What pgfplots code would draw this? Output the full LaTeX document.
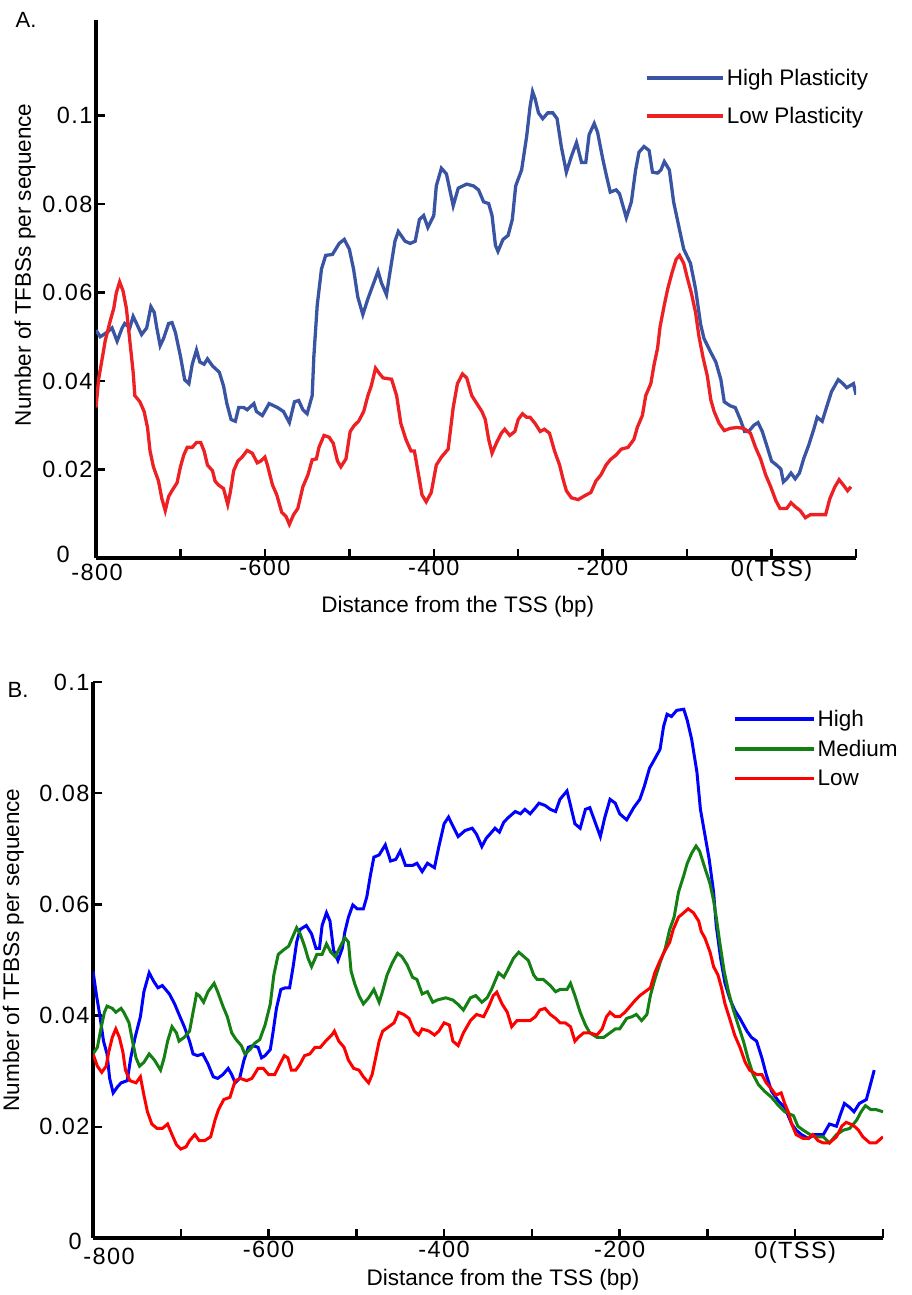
\documentclass[border=0pt]{standalone}
\usepackage{fontspec}
\setmainfont{Liberation Sans}
\newfontfamily\tickfont[LetterSpace=6]{Liberation Sans}
\usepackage{pgfplots}
\pgfplotsset{compat=1.18}
\definecolor{ablue}{RGB}{58,84,164}
\definecolor{ared}{RGB}{237,32,36}
\definecolor{bblue}{RGB}{0,0,255}
\definecolor{bgreen}{RGB}{20,128,20}
\definecolor{bred}{RGB}{255,0,0}
\newcommand{\tfont}{\tickfont\fontsize{23.5}{27}\selectfont}
\pgfplotsset{
 panel/.style={
  scale only axis,
  axis x line=bottom, axis y line=left,
  axis line style={-, line width=4pt},
  xmin=-800, xmax=100, ymin=0,
  xtick={-800,-700,-600,-500,-400,-300,-200,-100,0,100},
  xticklabels={{},{},{-600},{},{-400},{},{-200},{},{0(TSS)},{}},
  ytick={0,0.02,0.04,0.06,0.08,0.1},
  yticklabels={{},0.02,0.04,0.06,0.08,0.1},
  tick align=inside,
  tick style={line width=2.5pt, black},
  major tick length=9pt,
  tick label style={font=\tfont},
  label style={font=\fontsize{22.5}{27}\selectfont},
  legend style={draw=none, fill=none, font=\fontsize{22.5}{27}\selectfont, inner sep=0pt},
  legend cell align=left,
 }
}
\begin{document}
\begin{tikzpicture}[x=1pt,y=1pt]
\useasboundingbox (0,0) rectangle (911,1295);
\node[font=\fontsize{22}{26}\selectfont] at (26,1275) {A.};
\node[font=\fontsize{22}{26}\selectfont] at (18,605) {B.};
\begin{axis}[panel,
  at={(96pt,737pt)}, anchor=south west,
  width=760pt, height=538pt, ymax=0.1216,
  xticklabel style={yshift=2pt},
  xlabel={Distance from the TSS (bp)},
  ylabel={Number of TFBSs per sequence},
  xlabel style={at={(axis description cs:0.476,-0.091)}, anchor=center},
  ylabel style={at={(axis description cs:-0.0934,0.545)}, anchor=center, rotate=0},
  legend image code/.code={\draw[#1, line width=4pt] (0pt,0pt) -- (76pt,0pt);},
  legend style={at={(axis description cs:0.722,0.9126)}, anchor=north west, row sep=16pt},
]
\addplot[ablue, line width=3.3pt] coordinates {
(-800,0.0515)(-795,0.050)(-787,0.051)(-781,0.052)(-775,0.049)(-769,0.052)(-766,0.053)(-760,0.052)(-756,0.0546)(-752,0.053)(-746,0.0505)(-740,0.052)(-735,0.0568)(-731,0.0555)(-728,0.052)(-724,0.048)(-720,0.0496)(-714,0.053)(-710,0.0532)(-706,0.051)(-700,0.0456)(-695,0.0403)(-690,0.0394)(-686,0.0438)(-681,0.047)(-677,0.0443)(-672,0.0438)(-668,0.045)(-662,0.0434)(-654,0.042)(-649,0.0389)(-645,0.0349)(-640,0.0313)(-635,0.0309)(-631,0.034)(-625,0.034)(-621,0.0335)(-613,0.0349)(-610,0.0331)(-603,0.0322)(-595,0.0349)(-585,0.034)(-578,0.0331)(-571,0.0306)(-565,0.0353)(-560,0.0356)(-555,0.0335)(-550,0.0326)(-544,0.0367)(-542,0.0456)(-538,0.0572)(-533,0.0653)(-528,0.0684)(-520,0.0686)(-512,0.0711)(-506,0.072)(-500,0.0698)(-495,0.0653)(-490,0.059)(-484,0.055)(-478,0.0586)(-472,0.0617)(-466,0.0648)(-462,0.0622)(-456,0.0595)(-452,0.0644)(-446,0.0716)(-442,0.0738)(-434,0.0716)(-428,0.0711)(-422,0.0716)(-417,0.0765)(-412,0.0774)(-407,0.0747)(-400,0.0774)(-397,0.0841)(-391,0.0881)(-385,0.0868)(-377,0.0796)(-371,0.0836)(-361,0.0845)(-353,0.0841)(-347,0.0832)(-341,0.0805)(-335,0.0801)(-331,0.0774)(-327,0.0707)(-324,0.0693)(-318,0.072)(-312,0.0729)(-307,0.0765)(-303,0.0841)(-296,0.0877)(-290,0.0953)(-286,0.102)(-283,0.1054)(-280,0.1038)(-276,0.1006)(-271,0.0993)(-265,0.1006)(-259,0.1006)(-254,0.0993)(-249,0.093)(-243,0.0872)(-237,0.0908)(-231,0.0939)(-225,0.0894)(-220,0.0894)(-216,0.0957)(-210,0.0982)(-206,0.0962)(-200,0.0903)(-196,0.0868)(-191,0.0827)(-184,0.0832)(-180,0.0823)(-176,0.0796)(-172,0.0769)(-166,0.0805)(-161,0.0877)(-157,0.0917)(-151,0.093)(-145,0.0921)(-141,0.0872)(-135,0.087)(-131,0.0877)(-127,0.0896)(-121,0.0877)(-116,0.0805)(-109,0.0742)(-104,0.0698)(-96,0.0666)(-90,0.0608)(-84,0.0528)(-80,0.0496)(-72,0.0465)(-66,0.0443)(-60,0.0403)(-56,0.0353)(-49,0.0344)(-43,0.034)(-37,0.0313)(-32,0.0286)(-27,0.0286)(-21,0.03)(-16,0.0306)(-11,0.0286)(-5,0.025)(0,0.0219)(6,0.021)(11,0.0201)(14,0.0172)(18,0.0179)(23,0.0192)(28,0.0179)(33,0.0192)(38,0.0224)(44,0.0255)(50,0.0291)(54,0.0318)(60,0.0309)(65,0.034)(71,0.0376)(79,0.0403)(84,0.0395)(89,0.0385)(97,0.0394)(100,0.0369)
};
\addlegendentry{High Plasticity}
\addplot[ared, line width=3.3pt] coordinates {
(-800,0.034)(-797,0.0403)(-793,0.0447)(-789,0.0492)(-783,0.0537)(-779,0.0564)(-776,0.0599)(-772,0.0624)(-768,0.0604)(-764,0.0564)(-760,0.0492)(-756,0.042)(-754,0.0367)(-748,0.0353)(-743,0.0331)(-739,0.0295)(-736,0.0242)(-732,0.0206)(-726,0.0174)(-722,0.0134)(-718,0.0107)(-714,0.0139)(-710,0.0152)(-704,0.017)(-700,0.0206)(-696,0.0233)(-692,0.025)(-686,0.025)(-681,0.0261)(-676,0.0261)(-672,0.0242)(-668,0.021)(-662,0.0197)(-659,0.0174)(-655,0.0165)(-649,0.0157)(-644,0.0121)(-641,0.0148)(-637,0.0197)(-632,0.0219)(-627,0.0228)(-621,0.0243)(-615,0.0237)(-609,0.0215)(-605,0.0219)(-600,0.0228)(-597,0.021)(-591,0.0165)(-586,0.0143)(-580,0.0103)(-575,0.0094)(-571,0.0076)(-566,0.0098)(-561,0.0112)(-555,0.0161)(-549,0.0188)(-544,0.0222)(-539,0.0224)(-536,0.025)(-530,0.0277)(-524,0.0273)(-519,0.0259)(-514,0.0219)(-510,0.0206)(-504,0.0224)(-499,0.0286)(-494,0.03)(-489,0.0309)(-483,0.0331)(-478,0.0367)(-474,0.0389)(-469,0.0429)(-464,0.0416)(-460,0.0407)(-450,0.0404)(-444,0.0367)(-439,0.0304)(-433,0.0268)(-427,0.0242)(-423,0.0242)(-418,0.0188)(-414,0.0143)(-409,0.0127)(-403,0.0148)(-397,0.021)(-391,0.0228)(-383,0.0246)(-377,0.034)(-372,0.0394)(-366,0.0416)(-361,0.0407)(-355,0.0367)(-349,0.0349)(-343,0.0331)(-339,0.0313)(-335,0.0268)(-331,0.0237)(-326,0.0259)(-320,0.0282)(-316,0.0291)(-310,0.0277)(-304,0.0286)(-300,0.0313)(-295,0.0326)(-290,0.0318)(-286,0.0318)(-280,0.0304)(-274,0.0286)(-269,0.0291)(-263,0.0282)(-257,0.0242)(-251,0.021)(-247,0.0179)(-243,0.0152)(-237,0.0136)(-229,0.0132)(-221,0.0141)(-214,0.0148)(-208,0.0174)(-202,0.0188)(-196,0.021)(-191,0.0222)(-184,0.0233)(-178,0.0246)(-170,0.025)(-163,0.0268)(-159,0.0295)(-153,0.0322)(-149,0.0367)(-143,0.0394)(-139,0.0438)(-135,0.0474)(-132,0.0523)(-127,0.0572)(-123,0.0608)(-118,0.0644)(-113,0.0675)(-109,0.0684)(-104,0.0666)(-100,0.0635)(-95,0.0599)(-90,0.0555)(-86,0.0501)(-81,0.0452)(-76,0.0411)(-72,0.0358)(-68,0.0331)(-62,0.0304)(-56,0.0288)(-49,0.0293)(-41,0.0295)(-33,0.0293)(-25,0.0282)(-19,0.025)(-13,0.0224)(-7,0.0188)(-1,0.0161)(5,0.013)(10,0.0112)(18,0.0112)(23,0.0125)(28,0.0116)(34,0.0107)(40,0.0091)(46,0.0098)(54,0.0098)(64,0.0098)(69,0.0134)(75,0.0161)(80,0.0177)(85,0.0165)(90,0.0152)(94,0.0161)
};
\addlegendentry{Low Plasticity}
\end{axis}
\node[font=\tfont, inner sep=0pt, anchor=east] at (70,741) {0};
\node[font=\tfont, inner sep=0pt, anchor=north] at (97,731) {-800};
\begin{axis}[panel,
  at={(93pt,57pt)}, anchor=south west,
  width=790pt, height=556pt, ymax=0.1,
  xlabel={Distance from the TSS (bp)},
  ylabel={Number of TFBSs per sequence},
  xlabel style={at={(axis description cs:0.519,-0.0755)}, anchor=center},
  ylabel style={at={(axis description cs:-0.101,0.518)}, anchor=center, rotate=0},
  legend image code/.code={\draw[#1, line width=3.5pt] (0pt,0pt) -- (79pt,0pt);},
  legend style={at={(axis description cs:0.81,0.953)}, anchor=north west, row sep=8pt},
]
\addplot[bblue, line width=3pt] coordinates {
(-800,0.048)(-796,0.0436)(-792,0.0398)(-788,0.0354)(-784,0.0331)(-781,0.0287)(-777,0.0261)(-772,0.0272)(-768,0.0279)(-761,0.0283)(-757,0.0324)(-752,0.0361)(-746,0.0398)(-742,0.0443)(-736,0.0477)(-731,0.0462)(-726,0.045)(-721,0.0454)(-713,0.0439)(-707,0.0421)(-702,0.0402)(-696,0.038)(-690,0.0354)(-686,0.0331)(-681,0.0328)(-675,0.0331)(-669,0.0313)(-663,0.029)(-658,0.0287)(-652,0.0294)(-646,0.0305)(-642,0.0294)(-638,0.0279)(-633,0.0287)(-628,0.032)(-623,0.0343)(-618,0.0346)(-612,0.0343)(-608,0.0324)(-604,0.0328)(-598,0.0339)(-595,0.0369)(-591,0.0413)(-586,0.0447)(-581,0.045)(-576,0.045)(-572,0.0488)(-568,0.0532)(-564,0.0555)(-557,0.0562)(-551,0.0547)(-546,0.0521)(-542,0.0521)(-539,0.0562)(-534,0.0585)(-530,0.057)(-526,0.0518)(-521,0.0499)(-516,0.0521)(-513,0.0551)(-509,0.0577)(-504,0.0599)(-499,0.0592)(-492,0.0592)(-488,0.0614)(-484,0.0652)(-480,0.0685)(-474,0.0689)(-467,0.0707)(-461,0.0678)(-455,0.0681)(-450,0.0696)(-444,0.067)(-436,0.067)(-431,0.0674)(-425,0.0659)(-419,0.0674)(-411,0.0666)(-406,0.0704)(-400,0.0745)(-395,0.0757)(-390,0.0741)(-384,0.0722)(-376,0.0733)(-368,0.0737)(-363,0.0726)(-357,0.0704)(-352,0.0719)(-348,0.0726)(-342,0.0737)(-337,0.073)(-332,0.0748)(-327,0.0756)(-319,0.0767)(-313,0.0763)(-308,0.0771)(-302,0.0763)(-296,0.0774)(-292,0.0782)(-285,0.0778)(-279,0.0771)(-273,0.0767)(-268,0.0789)(-260,0.0804)(-256,0.0778)(-251,0.0745)(-245,0.0737)(-239,0.0771)(-234,0.0774)(-228,0.0748)(-222,0.0722)(-217,0.0756)(-211,0.0789)(-205,0.0782)(-200,0.0763)(-192,0.0752)(-184,0.0774)(-177,0.0789)(-172,0.0812)(-166,0.0845)(-162,0.0856)(-154,0.0879)(-150,0.092)(-146,0.0942)(-141,0.0938)(-135,0.0949)(-127,0.0951)(-123,0.0931)(-118,0.0897)(-112,0.0838)(-108,0.0771)(-103,0.0726)(-98,0.0681)(-93,0.0622)(-90,0.0562)(-85,0.0503)(-80,0.0458)(-74,0.0428)(-69,0.041)(-63,0.0395)(-55,0.0372)(-50,0.0361)(-44,0.0354)(-38,0.0324)(-33,0.0294)(-27,0.0264)(-19,0.0246)(-12,0.0235)(-4,0.0205)(1,0.0194)(7,0.0186)(15,0.0179)(22,0.0186)(32,0.0186)(39,0.0205)(47,0.0201)(51,0.022)(56,0.0242)(62,0.0235)(67,0.0227)(73,0.0242)(81,0.0249)(85,0.0272)(90,0.0302)
};
\addlegendentry{High}
\addplot[bgreen, line width=3pt] coordinates {
(-800,0.0331)(-795,0.0343)(-791,0.0376)(-787,0.0406)(-784,0.0417)(-778,0.0413)(-774,0.0406)(-768,0.0413)(-765,0.0406)(-759,0.0387)(-755,0.0354)(-751,0.0324)(-747,0.0309)(-742,0.0316)(-736,0.0331)(-730,0.032)(-723,0.0302)(-719,0.0324)(-715,0.0354)(-710,0.038)(-705,0.0369)(-702,0.0354)(-696,0.0361)(-690,0.0372)(-686,0.0406)(-682,0.0439)(-679,0.0436)(-674,0.0424)(-669,0.0443)(-662,0.0458)(-658,0.0443)(-652,0.0417)(-647,0.0398)(-642,0.0369)(-637,0.0357)(-631,0.0346)(-627,0.0331)(-621,0.0339)(-616,0.035)(-610,0.0357)(-604,0.0383)(-598,0.0421)(-594,0.0473)(-589,0.051)(-583,0.0518)(-577,0.0525)(-573,0.054)(-568,0.0558)(-564,0.0547)(-559,0.0525)(-555,0.0503)(-551,0.0488)(-545,0.051)(-539,0.051)(-534,0.0529)(-529,0.0514)(-524,0.0506)(-518,0.0525)(-513,0.054)(-509,0.0532)(-506,0.048)(-502,0.0458)(-497,0.0436)(-492,0.0421)(-486,0.0432)(-480,0.0447)(-474,0.0424)(-471,0.0439)(-465,0.0473)(-459,0.0495)(-453,0.0512)(-448,0.0506)(-442,0.0491)(-436,0.0469)(-431,0.0465)(-425,0.0439)(-419,0.0443)(-413,0.0424)(-408,0.0428)(-398,0.0432)(-390,0.0428)(-384,0.042)(-378,0.041)(-370,0.0432)(-364,0.0436)(-357,0.0424)(-351,0.0432)(-346,0.0447)(-338,0.0477)(-332,0.0469)(-327,0.0484)(-321,0.0503)(-315,0.0514)(-309,0.0506)(-304,0.0499)(-298,0.0473)(-294,0.0465)(-287,0.0465)(-279,0.0454)(-273,0.0443)(-268,0.0447)(-260,0.0447)(-256,0.0458)(-251,0.0436)(-245,0.0406)(-239,0.0383)(-234,0.0369)(-226,0.0361)(-218,0.0361)(-211,0.0369)(-205,0.0376)(-200,0.0376)(-192,0.0395)(-186,0.0398)(-181,0.0402)(-175,0.0391)(-169,0.0402)(-165,0.0436)(-160,0.0465)(-154,0.0495)(-148,0.0521)(-143,0.0555)(-138,0.0577)(-133,0.0622)(-127,0.0652)(-123,0.0674)(-118,0.0692)(-113,0.0705)(-109,0.0696)(-103,0.0666)(-97,0.0637)(-93,0.0607)(-90,0.0577)(-86,0.0532)(-81,0.048)(-76,0.0443)(-71,0.0413)(-65,0.0383)(-59,0.0354)(-54,0.0324)(-48,0.0294)(-42,0.0276)(-35,0.0264)(-27,0.0253)(-19,0.0238)(-12,0.0227)(-2,0.022)(3,0.0201)(9,0.0194)(17,0.0186)(24,0.0182)(32,0.0182)(39,0.0171)(47,0.0186)(55,0.0194)(62,0.0197)(70,0.0212)(75,0.0227)(80,0.0238)(86,0.0231)(92,0.0231)(100,0.0227)
};
\addlegendentry{Medium}
\addplot[bred, line width=3pt] coordinates {
(-800,0.0331)(-795,0.0309)(-790,0.0298)(-785,0.0309)(-782,0.0335)(-778,0.0361)(-774,0.0376)(-770,0.0361)(-766,0.0335)(-763,0.0302)(-758,0.0283)(-751,0.0279)(-746,0.029)(-742,0.0257)(-738,0.0227)(-733,0.0205)(-727,0.0197)(-721,0.0197)(-715,0.0205)(-710,0.0186)(-705,0.0168)(-700,0.016)(-694,0.0164)(-690,0.0175)(-684,0.0186)(-679,0.0175)(-673,0.0175)(-666,0.0182)(-661,0.0212)(-657,0.0231)(-651,0.0249)(-644,0.0253)(-638,0.0283)(-632,0.0287)(-625,0.0283)(-619,0.0287)(-612,0.0305)(-606,0.0305)(-600,0.0294)(-593,0.0294)(-587,0.0313)(-582,0.0328)(-578,0.0324)(-574,0.0302)(-569,0.0302)(-564,0.0313)(-559,0.0328)(-553,0.0331)(-547,0.0343)(-541,0.0343)(-535,0.0354)(-528,0.0365)(-525,0.0372)(-520,0.0354)(-514,0.0343)(-509,0.032)(-503,0.0305)(-497,0.0302)(-492,0.029)(-486,0.0279)(-482,0.0294)(-478,0.0324)(-474,0.0354)(-470,0.0372)(-463,0.038)(-457,0.0387)(-452,0.0406)(-446,0.0402)(-440,0.0395)(-434,0.0372)(-429,0.0365)(-425,0.0376)(-417,0.0372)(-411,0.0365)(-406,0.0372)(-400,0.0387)(-394,0.0383)(-390,0.0354)(-384,0.0346)(-378,0.0369)(-370,0.0391)(-363,0.0402)(-355,0.0398)(-349,0.0417)(-344,0.0436)(-340,0.0442)(-334,0.0421)(-328,0.0406)(-323,0.038)(-317,0.0391)(-309,0.0391)(-302,0.0391)(-296,0.0398)(-291,0.041)(-285,0.0413)(-279,0.0402)(-273,0.0395)(-268,0.0387)(-262,0.0387)(-256,0.038)(-251,0.0354)(-247,0.0361)(-241,0.0369)(-234,0.0369)(-226,0.0365)(-220,0.0376)(-215,0.0398)(-211,0.0406)(-205,0.0398)(-200,0.0398)(-194,0.0406)(-188,0.0417)(-182,0.0428)(-177,0.0436)(-171,0.0443)(-165,0.045)(-160,0.0477)(-154,0.0499)(-148,0.0518)(-143,0.0532)(-139,0.0555)(-133,0.0577)(-127,0.0585)(-122,0.0592)(-116,0.0585)(-110,0.057)(-107,0.0551)(-103,0.054)(-97,0.0514)(-93,0.0488)(-88,0.0473)(-84,0.045)(-80,0.0421)(-74,0.0391)(-69,0.0365)(-63,0.0343)(-57,0.0316)(-52,0.0302)(-44,0.0294)(-38,0.0294)(-33,0.0279)(-27,0.0268)(-22,0.0257)(-16,0.0261)(-12,0.0242)(-8,0.0227)(-4,0.0205)(1,0.0186)(9,0.0179)(15,0.0179)(20,0.0186)(26,0.0175)(32,0.0171)(39,0.0171)(47,0.0182)(53,0.0201)(58,0.0208)(66,0.0203)(72,0.0194)(77,0.0182)(85,0.0171)(92,0.0171)(100,0.0182)
};
\addlegendentry{Low}
\end{axis}
\node[font=\tfont, inner sep=0pt, anchor=east] at (82,54) {0};
\node[font=\tfont, inner sep=0pt, anchor=north] at (109,47) {-800};
\end{tikzpicture}
\end{document}
